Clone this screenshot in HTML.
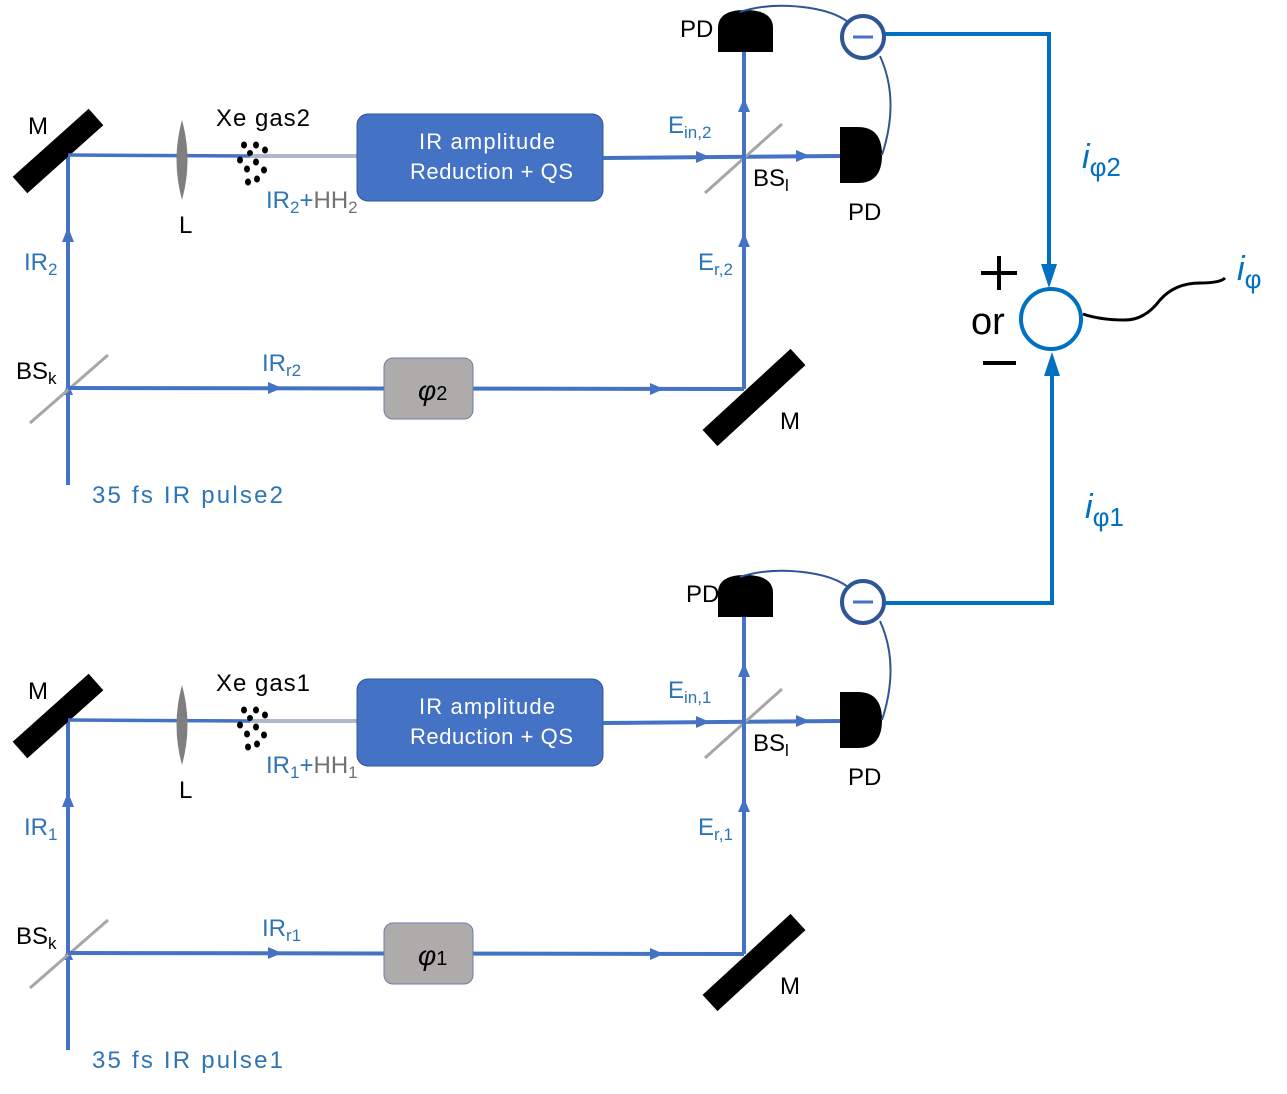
<!DOCTYPE html>
<html><head><meta charset="utf-8"><style>
html,body{margin:0;padding:0;background:#fff;}
svg{display:block;}
text{font-family:"Liberation Sans","DejaVu Sans",sans-serif;}
</style></head><body>
<svg width="1287" height="1094" viewBox="0 0 1287 1094" xmlns="http://www.w3.org/2000/svg">
<defs>
<g id="half">
  <line x1="68" y1="485" x2="68" y2="155" stroke="#4472c4" stroke-width="4"/>
  <polygon points="68,227 62,242 74,242" fill="#4472c4"/>
  <polygon points="68,383 63,395 73,395" fill="#4472c4"/>
  <line x1="30" y1="423" x2="108" y2="355" stroke="#a6a6a6" stroke-width="3"/>
  <line x1="68" y1="388" x2="744" y2="389" stroke="#4472c4" stroke-width="4"/>
  <polygon points="282,388 268,382 268,394" fill="#4472c4"/>
  <polygon points="664,389 650,383 650,395" fill="#4472c4"/>
  <rect x="384" y="358" width="89" height="61" rx="9" fill="#aeabab" stroke="#6d7ea8" stroke-width="1"/>
  <line x1="20" y1="185" x2="96" y2="117" stroke="#000" stroke-width="22"/>
  <line x1="68" y1="155" x2="250" y2="156" stroke="#4472c4" stroke-width="3.5"/>
  <line x1="250" y1="156" x2="358" y2="156" stroke="#adb9ca" stroke-width="4"/>
  <path d="M182,120 Q193,160 182,200 Q171,160 182,120 Z" fill="#7f7f7f"/>
  <g fill="#000">
    <ellipse cx="244" cy="145" rx="3" ry="3.5"/><ellipse cx="256" cy="145" rx="3" ry="3.5"/><ellipse cx="265" cy="150" rx="3" ry="3.5"/>
    <ellipse cx="250" cy="153" rx="3" ry="3"/><ellipse cx="240" cy="160" rx="3" ry="3.5"/><ellipse cx="256" cy="162" rx="3" ry="3.5"/>
    <ellipse cx="264" cy="170" rx="3" ry="3.5"/><ellipse cx="247" cy="169" rx="3" ry="3.5"/><ellipse cx="248" cy="182" rx="3" ry="3.5"/><ellipse cx="257" cy="179" rx="3" ry="3.5"/>
  </g>
  <rect x="357" y="114" width="246" height="87" rx="11" fill="#4472c4" stroke="#2f5597" stroke-width="1"/>
  <line x1="603" y1="158" x2="840" y2="156" stroke="#4472c4" stroke-width="4"/>
  <polygon points="710,157 696,151 696,163" fill="#4472c4"/>
  <polygon points="810,156 796,150 796,162" fill="#4472c4"/>
  <line x1="705" y1="193" x2="782" y2="124" stroke="#a6a6a6" stroke-width="3"/>
  <line x1="744" y1="389" x2="744" y2="50" stroke="#4472c4" stroke-width="4"/>
  <polygon points="744,233 738,247 750,247" fill="#4472c4"/>
  <polygon points="744,98 738,112 750,112" fill="#4472c4"/>
  <line x1="710" y1="438" x2="798" y2="357" stroke="#000" stroke-width="22"/>
  <path d="M718,52 L718,28 Q718,10 745,10 Q773,10 773,28 L773,52 Z" fill="#000"/>
  <path d="M840,127 L858,127 Q882,127 882,155 Q882,183 858,183 L840,183 Z" fill="#000"/>
  <path d="M740,12 Q770,2 810,8 Q835,12 848,22" fill="none" stroke="#2f5597" stroke-width="2"/>
  <path d="M880,56 Q900,100 882,155" fill="none" stroke="#2f5597" stroke-width="2"/>
  <circle cx="863" cy="37" r="21" fill="#fff" stroke="#2f5597" stroke-width="4"/>
  <line x1="853" y1="37" x2="873" y2="37" stroke="#4472c4" stroke-width="3"/>
</g>
</defs>

<use href="#half"/>
<use href="#half" transform="translate(0,565)"/>

<polyline points="885,34 1049,34 1049,275" fill="none" stroke="#0070c0" stroke-width="4"/>
<polygon points="1049,288 1041,264 1057,264" fill="#0070c0"/>
<polyline points="885,603 1052,603 1052,364" fill="none" stroke="#0070c0" stroke-width="4"/>
<polygon points="1052,352 1044,376 1060,376" fill="#0070c0"/>
<circle cx="1051" cy="319" r="30" fill="#fff" stroke="#0070c0" stroke-width="4"/>
<path d="M1083,314 Q1100,320 1125,320 Q1145,320 1160,300 Q1175,283 1200,283 Q1220,283 1225,278" fill="none" stroke="#000" stroke-width="3"/>
<line x1="981" y1="273" x2="1017" y2="273" stroke="#000" stroke-width="4"/>
<line x1="999" y1="256" x2="999" y2="290" stroke="#000" stroke-width="4"/>
<line x1="983" y1="363" x2="1016" y2="363" stroke="#000" stroke-width="4"/>
<text x="971" y="334" font-size="38" fill="#000">or</text>
<text x="1082" y="168" font-size="34" fill="#0070c0" font-style="italic">i<tspan font-size="26" font-style="normal" dy="8">φ2</tspan></text>
<text x="1085" y="518" font-size="34" fill="#0070c0" font-style="italic">i<tspan font-size="26" font-style="normal" dy="8">φ1</tspan></text>
<text x="1237" y="280" font-size="34" fill="#0070c0" font-style="italic">i<tspan font-size="26" font-style="normal" dy="8">φ</tspan></text>

<g font-size="24">
<text x="28" y="134" fill="#000">M</text>
<text x="216" y="126" fill="#000" textLength="94">Xe gas2</text>
<text x="179" y="233" fill="#000">L</text>
<text x="266" y="208" fill="#2e75b6">IR<tspan font-size="17" dy="5">2</tspan><tspan dy="-5">+</tspan><tspan fill="#767171">HH</tspan><tspan font-size="17" dy="5" fill="#767171">2</tspan></text>
<text x="24" y="270" fill="#2e75b6">IR<tspan font-size="17" dy="5">2</tspan></text>
<text x="16" y="379" fill="#000">BS<tspan font-size="17" dy="5">k</tspan></text>
<text x="262" y="371" fill="#2e75b6">IR<tspan font-size="17" dy="5">r2</tspan></text>
<text x="92" y="503" fill="#2e75b6" textLength="191">35 fs IR  pulse2</text>
<text x="418" y="400" font-family="Liberation Serif" font-style="italic" font-size="28" fill="#000">φ<tspan font-size="20" font-style="normal">2</tspan></text>
<text x="419" y="149" font-size="22" fill="#fff" textLength="136">IR amplitude</text>
<text x="410" y="179" font-size="22" fill="#fff" textLength="163">Reduction + QS</text>
<text x="668" y="133" fill="#2e75b6">E<tspan font-size="17" dy="5">in,2</tspan></text>
<text x="753" y="186" fill="#000">BS<tspan font-size="17" dy="5">l</tspan></text>
<text x="698" y="270" fill="#2e75b6">E<tspan font-size="17" dy="5">r,2</tspan></text>
<text x="680" y="37" fill="#000">PD</text>
<text x="848" y="220" fill="#000">PD</text>
<text x="780" y="429" fill="#000">M</text>
</g>
<g font-size="24">
<text x="28" y="699" fill="#000">M</text>
<text x="216" y="691" fill="#000" textLength="94">Xe gas1</text>
<text x="179" y="798" fill="#000">L</text>
<text x="266" y="773" fill="#2e75b6">IR<tspan font-size="17" dy="5">1</tspan><tspan dy="-5">+</tspan><tspan fill="#767171">HH</tspan><tspan font-size="17" dy="5" fill="#767171">1</tspan></text>
<text x="24" y="835" fill="#2e75b6">IR<tspan font-size="17" dy="5">1</tspan></text>
<text x="16" y="944" fill="#000">BS<tspan font-size="17" dy="5">k</tspan></text>
<text x="262" y="936" fill="#2e75b6">IR<tspan font-size="17" dy="5">r1</tspan></text>
<text x="92" y="1068" fill="#2e75b6" textLength="191">35 fs IR  pulse1</text>
<text x="418" y="965" font-family="Liberation Serif" font-style="italic" font-size="28" fill="#000">φ<tspan font-size="20" font-style="normal">1</tspan></text>
<text x="419" y="714" font-size="22" fill="#fff" textLength="136">IR amplitude</text>
<text x="410" y="744" font-size="22" fill="#fff" textLength="163">Reduction + QS</text>
<text x="668" y="698" fill="#2e75b6">E<tspan font-size="17" dy="5">in,1</tspan></text>
<text x="753" y="751" fill="#000">BS<tspan font-size="17" dy="5">l</tspan></text>
<text x="698" y="835" fill="#2e75b6">E<tspan font-size="17" dy="5">r,1</tspan></text>
<text x="686" y="602" fill="#000">PD</text>
<text x="848" y="785" fill="#000">PD</text>
<text x="780" y="994" fill="#000">M</text>
</g>
</svg>
</body></html>
